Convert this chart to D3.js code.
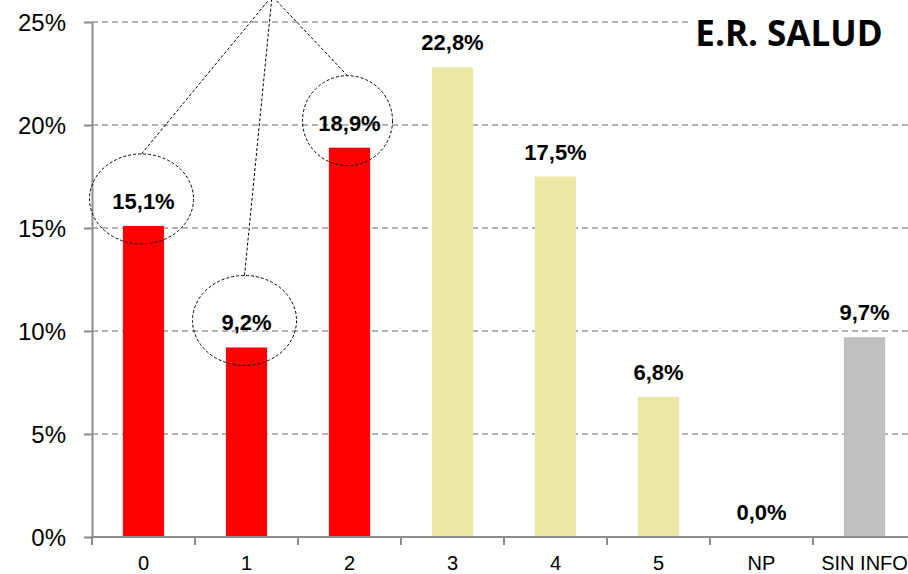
<!DOCTYPE html>
<meta charset="utf-8">
<style>
body { margin: 0; background: #fff; }
.axis path, .axis line { stroke: #8c8c8c; stroke-width: 2; }
.grid line { stroke: #9a9a9a; stroke-width: 1.3; stroke-dasharray: 6,4; }
.ylab { font: 24px "Liberation Sans", Arial, sans-serif; fill: #000; }
.xlab { font: 20px "Liberation Sans", Arial, sans-serif; fill: #000; }
.val { font: bold 22px "Liberation Sans", Arial, sans-serif; fill: #000; }
.title { font: 700 35px "Open Sans", sans-serif; fill: #000; }
</style>
<body>
<svg width="908" height="574"></svg>
<script src="https://cdn.jsdelivr.net/npm/d3@7"></script>
<script>
// data
var categories = ["0", "1", "2", "3", "4", "5", "NP", "SIN INFO"];
var values = [0.151, 0.092, 0.189, 0.228, 0.175, 0.068, 0.0, 0.097];
var barColors = ["#ff0000", "#ff0000", "#ff0000", "#ebe8a5", "#ebe8a5", "#ebe8a5", "#ebe8a5", "#bfbfbf"];
var yTicks = [0, 0.05, 0.10, 0.15, 0.20, 0.25];
var circled = ["0", "1", "2"];
var title = "E.R. SALUD";

var data = categories.map(function(c, i) { return {cat: c, value: values[i], color: barColors[i]}; });

var svg = d3.select("svg");
var plotL = 92, plotR = 916, plotT = 22, plotB = 537;

var x = d3.scaleBand().domain(categories).range([plotL, plotR])
    .paddingInner(0.6).paddingOuter(0.3);
var y = d3.scaleLinear().domain([0, 0.25]).range([plotB, plotT]);

var es = d3.formatLocale({decimal: ",", thousands: ".", grouping: [3], currency: ["", "€"]});
var pct1 = es.format(".1%");

// gridlines
svg.append("g").attr("class", "grid")
  .selectAll("line").data(yTicks.slice(1)).enter().append("line")
    .attr("x1", plotL).attr("x2", 908)
    .attr("y1", function(d) { return y(d); })
    .attr("y2", function(d) { return y(d); });

// white box behind the title
svg.append("rect").attr("x", 690).attr("y", 0).attr("width", 218).attr("height", 60).attr("fill", "#fff");
svg.append("text").attr("class", "title")
    .attr("x", 789).attr("y", 46).attr("text-anchor", "middle").text(title);

// bars
svg.selectAll(".bar").data(data).enter().append("rect")
    .attr("class", "bar")
    .attr("x", function(d) { return x(d.cat); })
    .attr("y", function(d) { return y(d.value); })
    .attr("width", x.bandwidth())
    .attr("height", function(d) { return plotB - y(d.value); })
    .attr("fill", function(d) { return d.color; });

// y axis
var yAxis = svg.append("g").attr("class", "axis")
    .attr("transform", "translate(" + plotL + ",0)")
    .call(d3.axisLeft(y).tickValues(yTicks).tickSize(8).tickSizeOuter(0).tickFormat(d3.format(".0%")));
yAxis.selectAll("text").attr("class", "ylab").attr("x", -26).attr("dy", "0.35em");

// x axis: labels centred, ticks at band edges
var xAxis = svg.append("g").attr("class", "axis")
    .attr("transform", "translate(0," + plotB + ")")
    .call(d3.axisBottom(x).tickSize(0).tickSizeOuter(0));
xAxis.select("path").attr("d", "M" + plotL + ",0H908");
xAxis.selectAll("text").attr("class", "xlab").attr("y", 33).attr("dy", 0);
var half = (x.step() - x.bandwidth()) / 2;
xAxis.selectAll(".edge").data(categories).enter().append("line")
    .attr("class", "edge")
    .attr("x1", function(d) { return x(d) - half; })
    .attr("x2", function(d) { return x(d) - half; })
    .attr("y1", 0).attr("y2", 8);

// value labels
svg.selectAll(".val").data(data).enter().append("text")
    .attr("class", "val")
    .attr("x", function(d) { return x(d.cat) + x.bandwidth() / 2; })
    .attr("y", function(d) { return y(d.value) - 17; })
    .attr("text-anchor", "middle")
    .text(function(d) { return pct1(d.value); });

// dashed ellipses and leader lines
var apex = [272, -4];
var circ = data.filter(function(d) { return circled.indexOf(d.cat) >= 0; });
var ann = svg.append("g").attr("fill", "none").attr("stroke", "#000")
    .attr("stroke-width", 1).attr("stroke-dasharray", "3,2");
ann.selectAll("ellipse").data(circ).enter().append("ellipse")
    .attr("cx", function(d) { return x(d.cat) + x.bandwidth() / 2 - 2; })
    .attr("cy", function(d) { return y(d.value) - 27; })
    .attr("rx", function(d, i) { return i == 2 ? 45 : 52; })
    .attr("ry", 45);
ann.selectAll("line").data(circ).enter().append("line")
    .attr("x1", function(d) { return x(d.cat) + x.bandwidth() / 2 - 2; })
    .attr("y1", function(d) { return y(d.value) - 72; })
    .attr("x2", apex[0]).attr("y2", apex[1]);
</script>
</body>
